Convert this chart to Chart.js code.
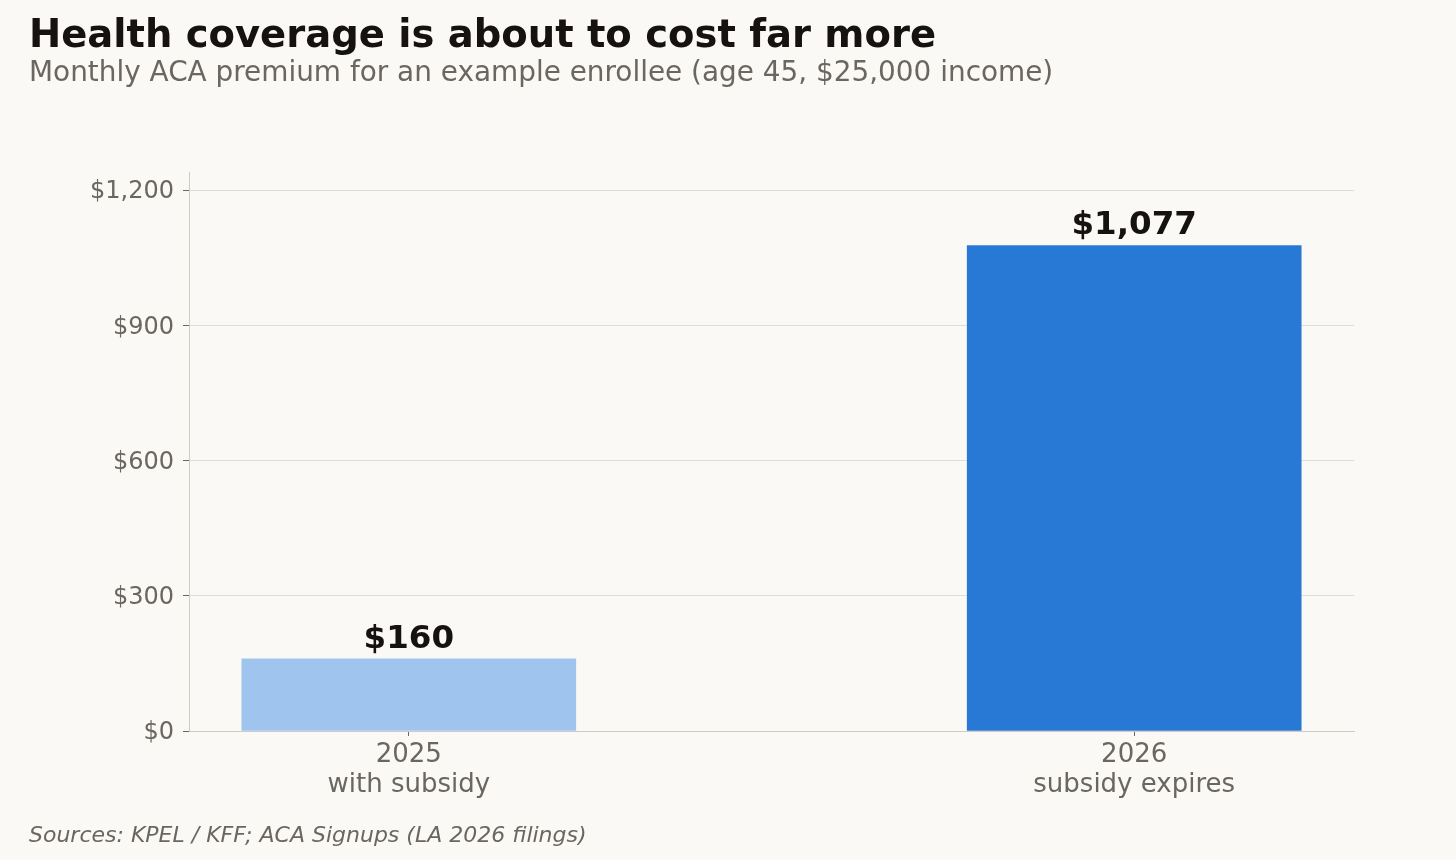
<!DOCTYPE html>
<html>
<head>
<meta charset="utf-8">
<script src="https://cdn.jsdelivr.net/npm/chart.js@4"></script>
<style>
  body { margin: 0; background: #faf9f5; font-family: 'DejaVu Sans', sans-serif; }
  #wrap { position: relative; width: 1456px; height: 860px; }
  canvas { position: absolute; left: 0; top: 0; }
  .txt { position: absolute; left: 29px; white-space: nowrap; }
  #title { top: 15px; font-size: 38.5px; line-height: 38.5px; font-weight: bold; color: #15120f; }
  #subtitle { top: 58px; font-size: 27.9px; line-height: 28px; color: #6b6660; }
  #source { top: 824px; font-size: 22px; line-height: 22px; font-style: italic; color: #6b6660; }
</style>
</head>
<body>
<div id="wrap">
  <canvas id="chart" width="1456" height="860"></canvas>
  <div class="txt" id="title">Health coverage is about to cost far more</div>
  <div class="txt" id="subtitle">Monthly ACA premium for an example enrollee (age 45, $25,000 income)</div>
  <div class="txt" id="source">Sources: KPEL / KFF; ACA Signups (LA 2026 filings)</div>
</div>
<script>
const categories = [['2025', 'with subsidy'], ['2026', 'subsidy expires']];
const premiums = [160, 1077];
const barColors = ['#9fc5ee', '#2878d6'];
const yTicks = [0, 300, 600, 900, 1200];

const money = (v) => '$' + v.toLocaleString('en-US');

// value labels above the bars
const barLabels = {
  id: 'barLabels',
  afterDatasetsDraw(chart) {
    const ctx = chart.ctx;
    const meta = chart.getDatasetMeta(0);
    ctx.save();
    ctx.font = 'bold 32.5px "DejaVu Sans"';
    ctx.fillStyle = '#15120f';
    ctx.textAlign = 'center';
    ctx.textBaseline = 'alphabetic';
    meta.data.forEach((bar, i) => {
      ctx.fillText(money(premiums[i]), bar.x, bar.y - 11);
    });
    ctx.restore();
  }
};

const renderChart = () => {
  const ctx = document.getElementById('chart');

  new Chart(ctx, {
    type: 'bar',
    data: {
      datasets: [{
        data: premiums.map((p, i) => ({ x: i, y: p })),
        backgroundColor: barColors,
        borderWidth: 0,
        barThickness: 334
      }]
    },
    options: {
      responsive: false,
      animation: false,
      events: [],
      layout: { padding: { left: 0, right: 102, top: 172, bottom: 0 } },
      plugins: { legend: { display: false }, tooltip: { enabled: false } },
      scales: {
        x: {
          type: 'linear',
          offset: false,
          min: -0.303,
          max: 1.303,
          afterBuildTicks: (scale) => { scale.ticks = categories.map((c, i) => ({ value: i })); },
          afterFit: (scale) => { scale.height = 129; },
          border: { color: '#cfcbc3', width: 1 },
          grid: { offset: false, drawOnChartArea: false, drawTicks: true, tickLength: 5, tickColor: '#6b6660' },
          ticks: {
            padding: 4,
            color: '#6b6660',
            font: { family: 'DejaVu Sans', size: 26, lineHeight: 1.15 },
            callback: (v) => categories[v] || ''
          }
        },
        y: {
          min: 0,
          max: 1240,
          afterBuildTicks: (scale) => { scale.ticks = yTicks.map((v) => ({ value: v })); },
          afterFit: (scale) => { scale.width = 189; },
          border: { color: '#cfcbc3', width: 1 },
          grid: { color: '#e0ddd6', lineWidth: 1, tickLength: 6, tickColor: '#6b6660' },
          ticks: {
            padding: 9,
            labelOffset: 2,
            color: '#6b6660',
            font: { family: 'DejaVu Sans', size: 24 },
            callback: (v) => money(v)
          }
        }
      }
    },
    plugins: [barLabels]
  });
};

window.onload = renderChart;
</script>
</body>
</html>
